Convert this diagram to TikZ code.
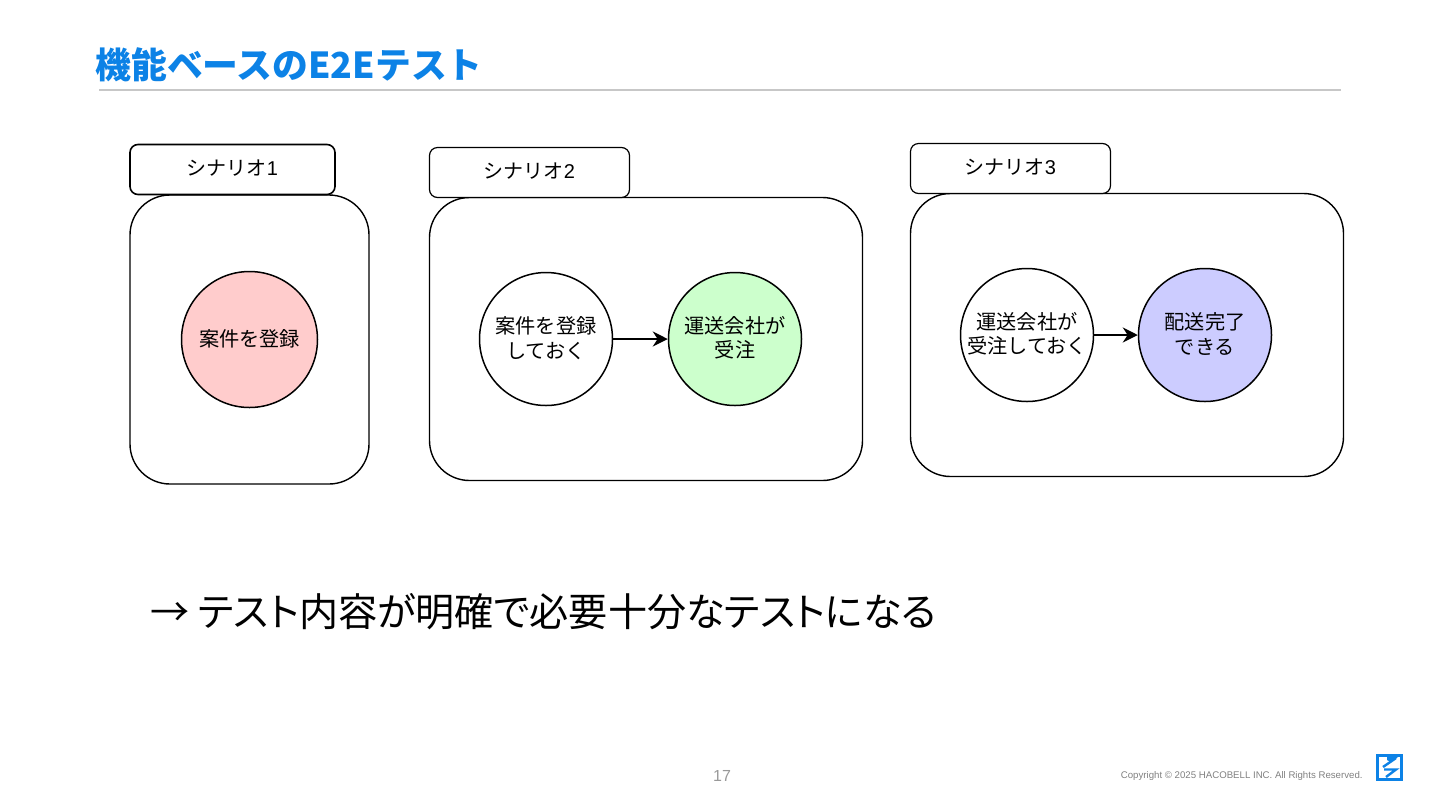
\documentclass[tikz,border=0pt]{standalone}
\usepackage{fontspec}
\setmainfont{Noto Sans CJK JP}
\newfontfamily\latinfont{Liberation Sans}
\newfontfamily\paltfont[RawFeature=+palt]{Noto Sans CJK JP}
\usetikzlibrary{arrows.meta}
\definecolor{titleblue}{HTML}{0C82E6}
\newcommand{\liftup}[1]{\raisebox{0.5pt}[\height][\depth]{#1}}
\tikzset{
  x=0.5pt,y=-0.5pt,
  groupbox/.style={draw=black,line width=0.7pt,fill=white,rounded corners=20pt,inner sep=0pt},
  tabbox/.style={draw=black,line width=0.6pt,fill=white,rounded corners=4pt,minimum width=100pt,minimum height=25pt,inner sep=0pt,font=\fontsize{10}{12}\selectfont},
  stepnode/.style={circle,draw=black,line width=0.75pt,minimum size=66.5pt,inner sep=0pt,align=center,font=\fontsize{10.1}{12.2}\selectfont},
  flow/.style={draw=black,line width=0.75pt,-{Stealth[length=7.5pt,width=7.5pt]}},
}
\begin{document}
\begin{tikzpicture}
\useasboundingbox (0,0) rectangle (1440,810);
\node[anchor=west,inner sep=0pt,text=titleblue,font=\fontsize{17.9}{22}\selectfont\bfseries] (title) at (95,64.5) {機能ベースのE2Eテスト};
\coordinate (ruleL) at (99,90); \coordinate (ruleR) at (1341,90);
\draw[draw=black!22,line width=0.6pt] (ruleL) -- (ruleR);
% scenario 1
\node[groupbox,minimum width=119.5pt,minimum height=144.5pt] (g1) at (249.5,339.5) {};
\node[tabbox,minimum width=102.5pt,line width=0.8pt] (t1) at (232.5,169.5) {\liftup{シナリオ{\latinfont 1}}};
\node[stepnode,fill=red!20,minimum size=68pt] (c1) at (249.5,339.5) {\liftup{案件を登録}};
% scenario 2
\node[groupbox,minimum width=216.5pt,minimum height=141.5pt] (g2) at (646,339) {};
\node[tabbox] (t2) at (529.5,172.5) {\liftup{シナリオ{\latinfont 2}}};
\node[stepnode,fill=white] (a2) at (546,339) {\liftup{案件を登録}\\\liftup{しておく}};
\node[stepnode,fill=green!20] (b2) at (735,339) {\liftup{運送会社が}\\\liftup{受注}};
\draw[flow] (a2) -- (b2);
% scenario 3
\node[groupbox,minimum width=216.5pt,minimum height=141.5pt] (g3) at (1127,335) {};
\node[tabbox] (t3) at (1010.5,168.5) {\liftup{シナリオ{\latinfont 3}}};
\node[stepnode,fill=white] (a3) at (1027,335) {\liftup{運送会社が}\\\liftup{受注しておく}};
\node[stepnode,fill=blue!20] (b3) at (1205,335) {\liftup{配送完了}\\\liftup{できる}};
\draw[flow] (a3) -- (b3);
% conclusion
\node[anchor=west,inner sep=0pt,font=\paltfont\fontsize{19.55}{24}\selectfont] (concl) at (150,612) {→ テスト内容が明確で必要十分なテストになる};
% footer
\node[inner sep=0pt,text=black!40,font=\latinfont\fontsize{8}{10}\selectfont] (page) at (722,776) {17};
\node[anchor=east,inner sep=0pt,text=black!50,font=\latinfont\fontsize{4.83}{6}\selectfont] (copy) at (1363,775.5) {Copyright © 2025 HACOBELL INC. All Rights Reserved.};
% logo
\fill[titleblue] (1376,754) rectangle (1403,781);
\fill[white] (1379,757) rectangle (1400,778);
\draw[titleblue,line width=1.2pt,line join=miter] (1396,758) -- (1383,767);
\draw[titleblue,line width=1.2pt,line join=miter] (1384,769.5) -- (1396,769.5) -- (1386,777);
\fill[titleblue] (1387,757) -- (1398,757) -- (1391,762) -- (1387,760) -- cycle;
\end{tikzpicture}
\end{document}
